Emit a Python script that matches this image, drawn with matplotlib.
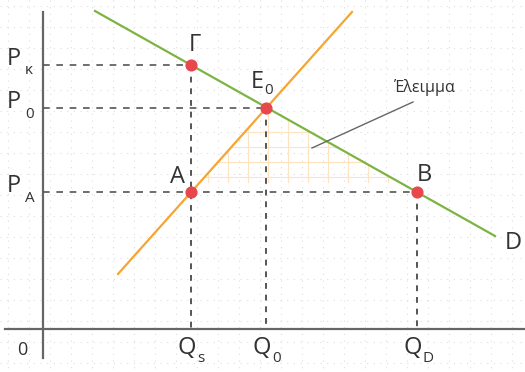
import numpy as np
import matplotlib.pyplot as plt
from matplotlib.patches import Polygon

plt.rcParams['font.family'] = ['Open Sans', 'DejaVu Sans']

# diagram coordinates (picture units, y grows downwards)
origin = (43, 329)
demand_x = [95, 495]
demand_y = [11, 236]
supply_x = [118, 352]
supply_y = [274, 12]

point_names = ['Γ', 'E0', 'A', 'B']
point_x = [191, 266, 191, 417]
point_y = [65, 108, 192, 192]

price_labels = ['κ', '0', 'A']
price_y = [65, 108, 192]
qty_labels = ['s', '0', 'D']
qty_x = [191, 266, 417]

fig = plt.figure(figsize=(5.25, 3.72), dpi=100)
ax = fig.add_axes([0, 0, 1, 1])
ax.set_xlim(0, 525)
ax.set_ylim(372, 0)
ax.axis('off')

# dotted background grid
for gx in np.arange(8, 525, 21):
    ax.plot([gx, gx], [0, 372], color='#dedede', lw=0.8, ls=(0, (1, 5)), zorder=0)
for gy in np.arange(6, 372, 21):
    ax.plot([0, 525], [gy, gy], color='#dedede', lw=0.8, ls=(0, (1, 5)), zorder=0)

# deficit triangle with faint orange grid
tri = Polygon([(point_x[2], point_y[2]), (point_x[1], point_y[1]), (point_x[3], point_y[3])],
              closed=True, facecolor='none', edgecolor='none')
ax.add_patch(tri)
for gx in np.arange(208, 420, 20):
    ln, = ax.plot([gx, gx], [100, 182], color='#fde3c2', lw=0.8, zorder=1)
    ln.set_clip_path(tri)
for gy in np.arange(132, 185, 15):
    ln, = ax.plot([180, 430], [gy, gy], color='#fde3c2', lw=0.8, zorder=1)
    ln.set_clip_path(tri)

# axes
ax.plot([origin[0], origin[0]], [12, 358], color='#666666', lw=1.6, zorder=2)
ax.plot([5, 525], [origin[1], origin[1]], color='#666666', lw=1.6, zorder=2)

# dashed guides
dash = dict(color='#555555', lw=1.2, ls=(0, (4, 4)), zorder=2)
ax.plot([origin[0], point_x[0]], [point_y[0]] * 2, **dash)
ax.plot([origin[0], point_x[1]], [point_y[1]] * 2, **dash)
ax.plot([origin[0], point_x[3]], [point_y[3]] * 2, **dash)
vdash = dict(color='#555555', lw=1.4, ls=(0, (3, 3)), zorder=2)
ax.plot([point_x[0]] * 2, [point_y[0], origin[1]], **vdash)
ax.plot([point_x[1]] * 2, [point_y[1], origin[1]], **vdash)
ax.plot([point_x[3]] * 2, [point_y[3], origin[1]], **vdash)

# curves
ax.plot(demand_x, demand_y, color='#7cb342', lw=1.6, zorder=3)
ax.plot(supply_x, supply_y, color='#f7a531', lw=1.6, zorder=3)

ax.scatter(point_x, point_y, s=60, color='#e8474c', zorder=4)

tc = '#333333'
fs = 17
ax.text(195, 45, 'Γ', fontsize=fs, color=tc, ha='center', va='center')
ax.text(257, 82, 'E', fontsize=fs, color=tc, ha='center', va='center')
ax.text(264, 91, '0', fontsize=11, color=tc, ha='left', va='center')
ax.text(178, 177, 'A', fontsize=fs, color=tc, ha='center', va='center')
ax.text(424, 175, 'B', fontsize=fs, color=tc, ha='center', va='center')
ax.text(513, 243, 'D', fontsize=fs, color=tc, ha='center', va='center')

for lab, py in zip(price_labels, price_y):
    ax.text(7, py - 6, 'P', fontsize=fs, color=tc, ha='left', va='center')
    ax.text(25, py + 6, lab, fontsize=11, color=tc, ha='left', va='center')
for lab, qx in zip(qty_labels, qty_x):
    ax.text(qx - 4, 348, 'Q', fontsize=fs, color=tc, ha='center', va='center')
    ax.text(qx + 6, 358, lab, fontsize=11, color=tc, ha='left', va='center')
ax.text(22, 350, '0', fontsize=13, color=tc, ha='center', va='center')

ax.plot([312, 413], [148, 102], color='#666666', lw=1.0, zorder=3)
ax.text(425, 88, 'Έλειμμα', fontsize=11.5, color=tc, ha='center', va='center')

fig.savefig('out.png', dpi=100)
